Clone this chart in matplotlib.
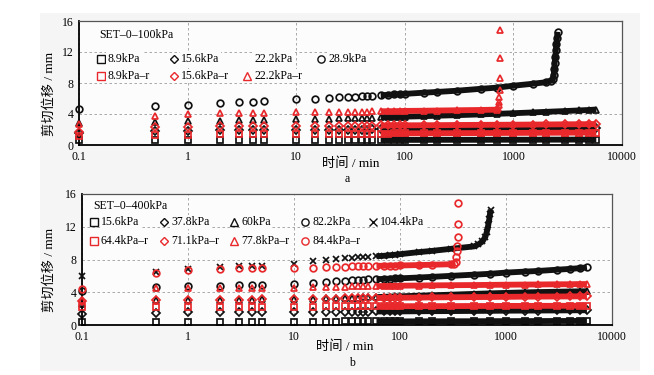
import matplotlib
matplotlib.use('Agg')
import matplotlib.pyplot as plt
from matplotlib.patches import Rectangle

plt.rcParams['font.family'] = ['Liberation Serif', 'Noto Sans CJK SC']
plt.rcParams['axes.unicode_minus'] = False

BLACK = '#111111'
RED = '#e8282b'

# ---------------- data ----------------
# sampling times (min)
T = [0.1, 0.5, 1, 2, 3, 4, 5, 10, 15, 20, 25, 30, 35, 40, 45, 50, 60, 70, 80, 90,
     100, 150, 200, 300, 500, 700, 1000, 1500, 2000, 3000, 4000, 5000, 5800]

# panel a : SET-0-100kPa
a_title = 'SET–0–100kPa'
a_sq_89 = [0.60, 0.62, 0.62, 0.63, 0.63, 0.63, 0.63, 0.64, 0.64, 0.64, 0.64, 0.65, 0.65, 0.65, 0.65, 0.65,
           0.65, 0.65, 0.66, 0.66, 0.66, 0.66, 0.67, 0.67, 0.67, 0.68, 0.68, 0.68, 0.69, 0.69, 0.70, 0.70, 0.70]
a_di_156 = [1.6, 1.8, 1.85, 1.9, 1.9, 1.92, 1.93, 1.95, 1.96, 1.97, 1.98, 1.99, 2.0, 2.0, 2.0, 2.01,
            2.02, 2.02, 2.03, 2.03, 2.04, 2.05, 2.06, 2.08, 2.1, 2.11, 2.12, 2.14, 2.15, 2.17, 2.18, 2.19, 2.2]
a_tr_222 = [2.9, 3.0, 3.1, 3.15, 3.2, 3.2, 3.25, 3.3, 3.35, 3.4, 3.42, 3.45, 3.47, 3.5, 3.52, 3.54,
            3.57, 3.6, 3.62, 3.64, 3.66, 3.72, 3.78, 3.85, 3.95, 4.02, 4.1, 4.2, 4.28, 4.38, 4.46, 4.52, 4.58]
a_ci_289_t = T[:29] + [2200, 2300, 2350, 2380, 2400, 2430, 2460, 2490, 2520, 2550]
a_ci_289 = [4.6, 5.0, 5.2, 5.4, 5.5, 5.6, 5.7, 5.9, 6.0, 6.1, 6.15, 6.2, 6.25, 6.3, 6.33, 6.36,
            6.42, 6.47, 6.52, 6.56, 6.6, 6.75, 6.85, 7.0, 7.25, 7.4, 7.65, 7.9, 8.1,
            8.3, 8.5, 9.0, 9.8, 10.6, 11.4, 12.2, 13.0, 13.8, 14.6]
a_sq_89r = [1.1, 1.3, 1.35, 1.38, 1.4, 1.4, 1.4, 1.42, 1.43, 1.44, 1.45, 1.45, 1.46, 1.46, 1.47, 1.47,
            1.48, 1.48, 1.49, 1.49, 1.5, 1.51, 1.52, 1.53, 1.54, 1.55, 1.56, 1.57, 1.58, 1.59, 1.6, 1.6, 1.6]
a_di_156r = [1.7, 2.3, 2.35, 2.4, 2.4, 2.42, 2.43, 2.45, 2.46, 2.47, 2.48, 2.49, 2.5, 2.5, 2.5, 2.51,
             2.52, 2.52, 2.53, 2.53, 2.54, 2.55, 2.56, 2.58, 2.6, 2.61, 2.62, 2.64, 2.65, 2.67, 2.68, 2.69, 2.7]
a_tr_222r_t = T[:26] + [725, 730, 735, 740, 745, 750, 755, 760]
a_tr_222r = [2.7, 3.8, 4.0, 4.1, 4.12, 4.15, 4.15, 4.2, 4.22, 4.25, 4.27, 4.28, 4.3, 4.3, 4.32, 4.33,
             4.35, 4.36, 4.37, 4.38, 4.4, 4.42, 4.45, 4.48, 4.52, 4.56,
             4.8, 5.2, 5.6, 6.2, 7.1, 8.7, 11.2, 14.9]

# panel b : SET-0-400kPa
b_title = 'SET–0–400kPa'
b_sq_156 = [0.40, 0.40, 0.40, 0.41, 0.41, 0.41, 0.41, 0.42, 0.42, 0.42, 0.42, 0.43, 0.43, 0.43, 0.43, 0.43,
            0.44, 0.44, 0.44, 0.44, 0.44, 0.45, 0.45, 0.46, 0.46, 0.47, 0.47, 0.48, 0.48, 0.49, 0.49, 0.50, 0.50]
b_di_378 = [1.4, 1.5, 1.55, 1.57, 1.58, 1.59, 1.6, 1.6, 1.61, 1.62, 1.62, 1.63, 1.63, 1.64, 1.64, 1.64,
            1.65, 1.65, 1.66, 1.66, 1.66, 1.68, 1.69, 1.7, 1.72, 1.73, 1.75, 1.76, 1.77, 1.78, 1.79, 1.8, 1.8]
b_tr_60 = [2.6, 3.0, 3.05, 3.1, 3.1, 3.1, 3.12, 3.15, 3.2, 3.25, 3.28, 3.3, 3.32, 3.34, 3.36, 3.38,
           3.41, 3.44, 3.47, 3.49, 3.5, 3.58, 3.63, 3.7, 3.8, 3.86, 3.92, 3.98, 4.02, 4.06, 4.09, 4.11, 4.12]
b_ci_822 = [4.2, 4.7, 4.75, 4.8, 4.85, 4.9, 4.92, 5.05, 5.15, 5.25, 5.32, 5.4, 5.45, 5.5, 5.53, 5.56,
            5.6, 5.63, 5.66, 5.68, 5.7, 5.8, 5.88, 6.0, 6.15, 6.25, 6.4, 6.52, 6.6, 6.75, 6.85, 6.95, 7.05]
b_x_1044_t = T[:25] + [550, 600, 640, 660, 680, 695, 705, 718]
b_x_1044 = [6.0, 6.5, 6.9, 7.05, 7.15, 7.2, 7.25, 7.5, 7.8, 8.0, 8.1, 8.15, 8.2, 8.25, 8.3, 8.33,
            8.4, 8.45, 8.52, 8.58, 8.65, 8.9, 9.05, 9.3, 9.6,
            9.85, 10.2, 10.8, 11.4, 12.2, 12.9, 13.5, 14.1]
b_sq_644r = [2.2, 2.2, 2.22, 2.22, 2.23, 2.23, 2.24, 2.25, 2.25, 2.26, 2.26, 2.27, 2.27, 2.27, 2.28, 2.28,
             2.28, 2.29, 2.29, 2.29, 2.3, 2.3, 2.31, 2.31, 2.32, 2.32, 2.33, 2.33, 2.34, 2.34, 2.35, 2.35, 2.35]
b_di_711r = [2.9, 3.05, 3.07, 3.1, 3.1, 3.1, 3.12, 3.15, 3.17, 3.2, 3.22, 3.25, 3.26, 3.27, 3.28, 3.29,
             3.3, 3.31, 3.32, 3.33, 3.33, 3.35, 3.37, 3.39, 3.41, 3.42, 3.44, 3.46, 3.47, 3.48, 3.49, 3.5, 3.5]
b_tr_778r = [3.1, 4.5, 4.5, 4.52, 4.53, 4.54, 4.55, 4.55, 4.6, 4.65, 4.67, 4.7, 4.71, 4.72, 4.73, 4.74,
             4.75, 4.76, 4.77, 4.78, 4.8, 4.82, 4.84, 4.86, 4.88, 4.9, 4.92, 4.94, 4.95, 4.97, 4.98, 5.0, 5.0]
b_ci_844r_t = T[:24] + [325, 335, 340, 345, 348, 350, 352, 355]
b_ci_844r = [4.4, 6.3, 6.7, 6.9, 6.95, 7.0, 7.0, 6.95, 7.0, 7.05, 7.1, 7.12, 7.15, 7.17, 7.18, 7.2,
             7.22, 7.24, 7.25, 7.26, 7.27, 7.32, 7.36, 7.42,
             7.5, 7.7, 8.3, 9.0, 9.6, 10.7, 12.3, 14.9]

x_ticks = [0.1, 1, 10, 100, 1000, 10000]
x_ticklabels = ['0.1', '1', '10', '100', '1000', '10000']
y_ticks = [0, 4, 8, 12, 16]
x_label = '时间 / min'
y_label = '剪切位移 / mm'

# ---------------- figure ----------------
W, H = 654, 375
fig = plt.figure(figsize=(W / 100, H / 100), dpi=100, facecolor='white')
fig.patches.append(Rectangle((40 / W, 1 - 371 / H), 600 / W, 358 / H,
                             transform=fig.transFigure, facecolor='#f5f5f5',
                             edgecolor='none', zorder=-10))

AXFACE = '#fcfcfc'


def make_axes(l, t, r, b):
    ax = fig.add_axes([l / W, 1 - b / H, (r - l) / W, (b - t) / H])
    ax.set_facecolor(AXFACE)
    ax.set_xscale('log')
    ax.set_xlim(0.1, 10000)
    ax.set_ylim(0, 16)
    ax.set_xticks(x_ticks, x_ticklabels)
    ax.minorticks_off()
    ax.set_yticks(y_ticks)
    ax.tick_params(length=0, labelsize=8.5, pad=4)
    ax.grid(True, color='#9a9a9a', lw=0.6, linestyle=(0, (3, 3)))
    ax.set_axisbelow(True)
    for s in ['left', 'bottom']:
        ax.spines[s].set_color('black')
        ax.spines[s].set_linewidth(1.3)
    for s in ['top', 'right']:
        ax.spines[s].set_color('#555555')
        ax.spines[s].set_linewidth(0.9)
    return ax


MS = {'s': 4.7, 'D': 3.8, '^': 4.8, 'o': 4.8, 'x': 5.0}
BAND_LW = 4.2


def series(ax, t, v, marker, color, z, band_to=None):
    t0 = 55
    tb = [ti for ti in t if ti >= t0 and (band_to is None or ti <= band_to)]
    vb = [vi for ti, vi in zip(t, v) if ti >= t0 and (band_to is None or ti <= band_to)]
    ax.plot(tb, vb, color=color, lw=BAND_LW, solid_capstyle='butt',
            solid_joinstyle='round', zorder=z)
    ax.plot(t, v, linestyle='none', marker=marker, ms=MS[marker], mfc='none',
            mec=color, mew=1.25, zorder=z + 0.1, clip_on=False)


def legend_item(ax, xm, y, marker, color, text, xt):
    if marker is not None:
        ax.plot([xm], [y], transform=ax.transAxes, marker=marker, ms=MS[marker] + 0.4,
                mfc='none', mec=color, mew=1.0, linestyle='none', clip_on=False, zorder=6)
    ax.text(xt, y, text, transform=ax.transAxes, fontsize=8.5, va='center', ha='left',
            zorder=6, bbox=dict(facecolor=AXFACE, edgecolor='none', pad=1.0))


def ftext(x, y, s, **kw):
    fig.text(x / W, 1 - y / H, s, **kw)


# ---- panel a ----
axa = make_axes(79, 21, 622, 145)
series(axa, T, a_sq_89, 's', BLACK, 2)
series(axa, T, a_di_156, 'D', BLACK, 2.2)
series(axa, T, a_tr_222, '^', BLACK, 2.4)
series(axa, a_ci_289_t, a_ci_289, 'o', BLACK, 2.6)
series(axa, T, a_sq_89r, 's', RED, 3)
series(axa, T, a_di_156r, 'D', RED, 3.2)
series(axa, a_tr_222r_t, a_tr_222r, '^', RED, 3.4, band_to=725)

axa.text(0.037, 0.887, a_title, transform=axa.transAxes, fontsize=8.5, va='center',
         bbox=dict(facecolor=AXFACE, edgecolor='none', pad=1.0), zorder=6)
r1, r2 = 0.694, 0.556
legend_item(axa, 0.0405, r1, 's', BLACK, '8.9kPa', 0.053)
legend_item(axa, 0.175, r1, 'D', BLACK, '15.6kPa', 0.188)
legend_item(axa, 0.309, r1, None, BLACK, '22.2kPa', 0.324)
legend_item(axa, 0.446, r1, 'o', BLACK, '28.9kPa', 0.459)
legend_item(axa, 0.0405, r2, 's', RED, '8.9kPa–r', 0.053)
legend_item(axa, 0.175, r2, 'D', RED, '15.6kPa–r', 0.188)
legend_item(axa, 0.309, r2, '^', RED, '22.2kPa–r', 0.324)

# ---- panel b ----
axb = make_axes(82, 194, 612, 325)
series(axb, T, b_sq_156, 's', BLACK, 2)
series(axb, T, b_di_378, 'D', BLACK, 2.2)
series(axb, T, b_tr_60, '^', BLACK, 2.4)
series(axb, T, b_ci_822, 'o', BLACK, 2.6)
series(axb, b_x_1044_t, b_x_1044, 'x', BLACK, 2.8)
series(axb, T, b_sq_644r, 's', RED, 3)
series(axb, T, b_di_711r, 'D', RED, 3.2)
series(axb, T, b_tr_778r, '^', RED, 3.4)
series(axb, b_ci_844r_t, b_ci_844r, 'o', RED, 3.6, band_to=325)

axb.text(0.021, 0.908, b_title, transform=axb.transAxes, fontsize=8.5, va='center',
         bbox=dict(facecolor=AXFACE, edgecolor='none', pad=1.0), zorder=6)
r1, r2 = 0.786, 0.641
legend_item(axb, 0.0226, r1, 's', BLACK, '15.6kPa', 0.0358)
legend_item(axb, 0.155, r1, 'D', BLACK, '37.8kPa', 0.168)
legend_item(axb, 0.287, r1, '^', BLACK, '60kPa', 0.300)
legend_item(axb, 0.421, r1, 'o', BLACK, '82.2kPa', 0.434)
legend_item(axb, 0.549, r1, 'x', BLACK, '104.4kPa', 0.562)
legend_item(axb, 0.0226, r2, 's', RED, '64.4kPa–r', 0.0358)
legend_item(axb, 0.155, r2, 'D', RED, '71.1kPa–r', 0.168)
legend_item(axb, 0.287, r2, '^', RED, '77.8kPa–r', 0.300)
legend_item(axb, 0.421, r2, 'o', RED, '84.4kPa–r', 0.434)

# ---- axis labels ----
ftext(351, 164, x_label, fontsize=9.5, ha='center', va='center')
ftext(347, 179, 'a', fontsize=8.5, ha='center', va='center')
ftext(345, 347, x_label, fontsize=9.5, ha='center', va='center')
ftext(352, 363, 'b', fontsize=8.5, ha='center', va='center')
ftext(50, 94, y_label, fontsize=9.5, ha='center', va='center', rotation=90)
ftext(50, 270, y_label, fontsize=9.5, ha='center', va='center', rotation=90)

fig.savefig('out.png', dpi=100, facecolor='white')
